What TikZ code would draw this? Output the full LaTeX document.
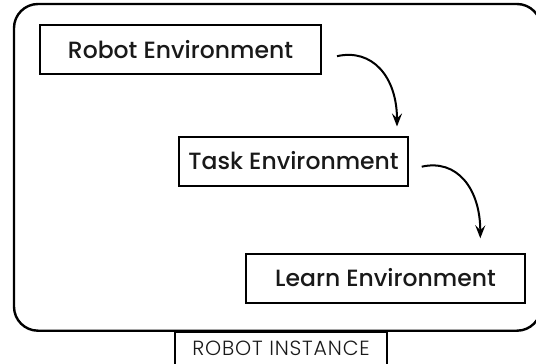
\documentclass[tikz,border=0pt]{standalone}
\usepackage{fontspec}
\setmainfont{Poppins}[UprightFont=* Medium]
\newfontfamily\lightfont{Poppins}[UprightFont=* Light, LetterSpace=4]
\usetikzlibrary{arrows.meta,calc}

\tikzset{
  envbox/.style={draw, line width=2pt, inner sep=0pt, anchor=center,
    font=\fontsize{23.5}{23.5}\selectfont, text=black!90,
    text height=16.6pt, text depth=0pt},
  flow/.style={line width=2pt,
    -{Stealth[length=13pt,width=10pt,inset=5pt]}},
}

\begin{document}
\begin{tikzpicture}[x=1pt,y=-1pt]
  \useasboundingbox (0,0) rectangle (536,364);

  % robot instance frame
  \draw[line width=2.4pt, rounded corners=24pt] (14,4) rectangle (541,330.7);

  % environments
  \node[envbox, minimum width=281pt, minimum height=48.7pt] (robot) at (180.5,49.7) {Robot Environment};
  \node[envbox, minimum width=229pt, minimum height=49pt] (task) at (293.5,161) {Task Environment};
  \node[envbox, minimum width=279pt, minimum height=49pt] (learn) at (385.5,278.5) {Learn Environment};

  % instance tab below the frame (open at the bottom edge)
  \node[draw, line width=2pt, anchor=north, inner sep=0pt, minimum width=212.3pt,
        text height=23.3pt, text depth=30pt, text=black!90,
        font=\lightfont\fontsize{20.5}{20.5}\selectfont] (inst) at (281,330.7) {ROBOT INSTANCE};

  % hand-off arrows
  \draw[flow] ($(robot.east)+(15,6.5)$) .. controls +(35,-8) and +(0,-50) .. ($(task.north east)+(-12,-9)$);
  \draw[flow] ($(task.east)+(12.7,5.7)$) .. controls +(35,-8) and +(0,-50) .. ($(learn.north east)+(-45.7,-14.7)$);
\end{tikzpicture}
\end{document}
